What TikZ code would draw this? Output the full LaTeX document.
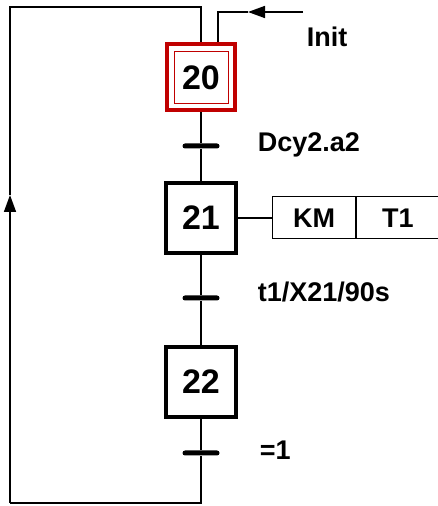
\documentclass[tikz,border=0pt]{standalone}
\usepackage{fontspec}
\setmainfont{Liberation Sans}
\usetikzlibrary{positioning,fit,arrows.meta}
\definecolor{initred}{RGB}{192, 0, 0}

\begin{document}
\begin{tikzpicture}[x=1pt, y=1pt, line width=1.6pt,
        stepnum/.style={font=\bfseries\fontsize{34}{36}\selectfont},
        stepbox/.style={draw, stepnum, line width=4pt, minimum size=70pt, inner sep=0pt},
        initin/.style={draw=initred, stepnum, line width=1pt, minimum width=54pt, minimum height=52pt, inner sep=0pt},
        initout/.style={draw=initred, line width=4pt, inner sep=6.5pt},
        trbar/.style={fill, minimum width=37pt, minimum height=5pt, inner sep=0pt, rounded corners=2.5pt},
        lbl/.style={font=\bfseries\fontsize{27}{29}\selectfont, inner sep=0pt, anchor=base west},
        actbox/.style={draw, line width=1pt, minimum width=83pt, minimum height=42pt, inner sep=0pt, font=\bfseries\fontsize{27}{29}\selectfont},
        tip/.style={-{Triangle[length=17pt, width=12pt]}}]
        \useasboundingbox (0,0) rectangle (437,506);

        % Steps
        \node[initin] (s20) at (201,428.5) {20};
        \node[initout, fit=(s20)] (s20o) {};
        \node[stepbox] (s21) at (201,288) {21};
        \node[stepbox] (s22) at (201,124) {22};

        % Transitions
        \node[trbar] (tr1) at (201,360) {};
        \node[trbar] (tr2) at (201,208) {};
        \node[trbar] (tr3) at (201,53) {};

        % Receptivities
        \node[lbl] (r1) at (257,354) {Dcy2.a2};
        \node[lbl] (r2) at (257,204) {t1/X21/90s};
        \node[lbl] (r3) at (259,46) {=1};

        % Links
        \draw (s20o) -- (tr1) -- (s21) -- (tr2) -- (s22) -- (tr3);

        % Loop back
        \coordinate (bl) at (10,3);
        \coordinate (up) at (10,311);
        \coordinate (tl) at (10,499);
        \draw (tr3) |- (bl);
        \draw[tip] (bl) -- (up);
        \draw (up) -- (tl) -| (s20o);

        % Init
        \coordinate (initend) at (303,494);
        \coordinate (initmid) at (248,494);
        \coordinate (initx) at (218,494);
        \draw[tip] (initend) -- (initmid);
        \draw (initmid) -- (initx) -- (initx |- s20o.north);
        \node[lbl] (initlbl) at (306,459) {Init};

        % Actions
        \node[actbox, anchor=west] (km) at (272,288) {KM};
        \node[actbox, right=0pt of km] (tim) {T1};
        \draw (s21) -- (km);
    \end{tikzpicture}
\end{document}
